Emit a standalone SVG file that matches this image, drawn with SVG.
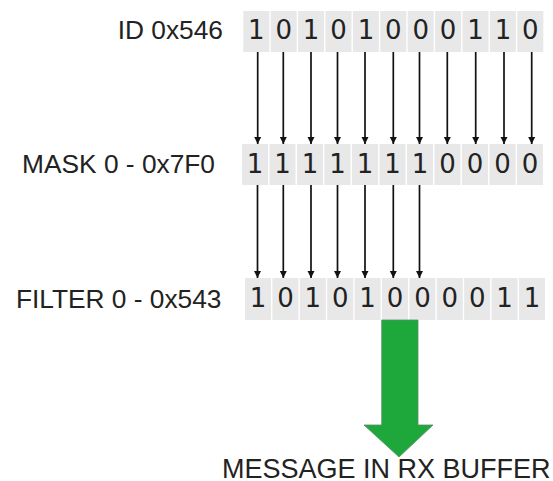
<svg xmlns="http://www.w3.org/2000/svg" width="553" height="481" viewBox="0 0 553 481">
<defs>
<style>
.lbl{font-family:"Liberation Sans",Arial,sans-serif;font-size:26.3px;fill:#222;text-anchor:end}
.cell rect{fill:#e8e8e8}
.cell text{font-family:"DejaVu Sans",sans-serif;font-size:26px;fill:#222;text-anchor:middle}
.conn line{stroke:#111;stroke-width:1.7;marker-end:url(#ah)}
</style>
<marker id="ah" viewBox="0 0 10 10" refX="10" refY="5" markerUnits="userSpaceOnUse" markerWidth="7" markerHeight="9" orient="auto">
<path d="M0,0 L10,5 L0,10 z" fill="#111"/>
</marker>
</defs>
<rect width="553" height="481" fill="#fff"/>

<text class="lbl" x="223" y="38.5">ID 0x546</text>
<text class="lbl" x="215" y="173">MASK 0 - 0x7F0</text>
<text class="lbl" x="221.5" y="308">FILTER 0 - 0x543</text>

<g id="id-row" class="cell">
<rect x="243.3" y="11" width="26" height="41"/><text x="256.3" y="39">1</text>
<rect x="270.7" y="11" width="26" height="41"/><text x="283.7" y="39">0</text>
<rect x="298.1" y="11" width="26" height="41"/><text x="311.1" y="39">1</text>
<rect x="325.5" y="11" width="26" height="41"/><text x="338.5" y="39">0</text>
<rect x="352.9" y="11" width="26" height="41"/><text x="365.9" y="39">1</text>
<rect x="380.3" y="11" width="26" height="41"/><text x="393.3" y="39">0</text>
<rect x="407.7" y="11" width="26" height="41"/><text x="420.7" y="39">0</text>
<rect x="435.1" y="11" width="26" height="41"/><text x="448.1" y="39">0</text>
<rect x="462.5" y="11" width="26" height="41"/><text x="475.5" y="39">1</text>
<rect x="489.9" y="11" width="26" height="41"/><text x="502.9" y="39">1</text>
<rect x="517.3" y="11" width="26" height="41"/><text x="530.3" y="39">0</text>
</g>

<g id="mask-row" class="cell">
<rect x="242" y="144" width="26" height="41"/><text x="255" y="172.5">1</text>
<rect x="269.5" y="144" width="26" height="41"/><text x="282.5" y="172.5">1</text>
<rect x="297" y="144" width="26" height="41"/><text x="310" y="172.5">1</text>
<rect x="324.5" y="144" width="26" height="41"/><text x="337.5" y="172.5">1</text>
<rect x="352" y="144" width="26" height="41"/><text x="365" y="172.5">1</text>
<rect x="379.5" y="144" width="26" height="41"/><text x="392.5" y="172.5">1</text>
<rect x="407" y="144" width="26" height="41"/><text x="420" y="172.5">1</text>
<rect x="434.5" y="144" width="26" height="41"/><text x="447.5" y="172.5">0</text>
<rect x="462" y="144" width="26" height="41"/><text x="475" y="172.5">0</text>
<rect x="489.5" y="144" width="26" height="41"/><text x="502.5" y="172.5">0</text>
<rect x="517" y="144" width="26" height="41"/><text x="530" y="172.5">0</text>
</g>

<g id="filter-row" class="cell">
<rect x="245" y="278" width="26" height="42"/><text x="258" y="307">1</text>
<rect x="272.4" y="278" width="26" height="42"/><text x="285.4" y="307">0</text>
<rect x="299.8" y="278" width="26" height="42"/><text x="312.8" y="307">1</text>
<rect x="327.2" y="278" width="26" height="42"/><text x="340.2" y="307">0</text>
<rect x="354.6" y="278" width="26" height="42"/><text x="367.6" y="307">1</text>
<rect x="382" y="278" width="26" height="42"/><text x="395" y="307">0</text>
<rect x="409.4" y="278" width="26" height="42"/><text x="422.4" y="307">0</text>
<rect x="436.8" y="278" width="26" height="42"/><text x="449.8" y="307">0</text>
<rect x="464.2" y="278" width="26" height="42"/><text x="477.2" y="307">0</text>
<rect x="491.6" y="278" width="26" height="42"/><text x="504.6" y="307">1</text>
<rect x="519" y="278" width="26" height="42"/><text x="532" y="307">1</text>
</g>

<g id="connectors" class="conn">
<line x1="257.7" y1="52" x2="257.7" y2="144"/>
<line x1="283.3" y1="52" x2="283.3" y2="144"/>
<line x1="311" y1="52" x2="311" y2="144"/>
<line x1="337.5" y1="52" x2="337.5" y2="144"/>
<line x1="365" y1="52" x2="365" y2="144"/>
<line x1="393.3" y1="52" x2="393.3" y2="144"/>
<line x1="419.5" y1="52" x2="419.5" y2="144"/>
<line x1="447.3" y1="52" x2="447.3" y2="144"/>
<line x1="475.7" y1="52" x2="475.7" y2="144"/>
<line x1="504" y1="52" x2="504" y2="144"/>
<line x1="531.7" y1="52" x2="531.7" y2="144"/>
<line x1="257.5" y1="185" x2="257.5" y2="278"/>
<line x1="283.3" y1="185" x2="283.3" y2="278"/>
<line x1="311" y1="185" x2="311" y2="278"/>
<line x1="337.5" y1="185" x2="337.5" y2="278"/>
<line x1="365" y1="185" x2="365" y2="278"/>
<line x1="393.3" y1="185" x2="393.3" y2="278"/>
<line x1="419.5" y1="185" x2="419.5" y2="278"/>
</g>

<g id="result-arrow">
<path d="M381.7,320 L418,320 L418,425 L433,425 L399,457 L364,425 L381.7,425 Z" fill="#1ea83c" stroke="#5a8a6a" stroke-width="0.8"/>
</g>

<text id="result" class="lbl" style="font-size:27px" x="550.5" y="478">MESSAGE IN RX BUFFER</text>
</svg>
